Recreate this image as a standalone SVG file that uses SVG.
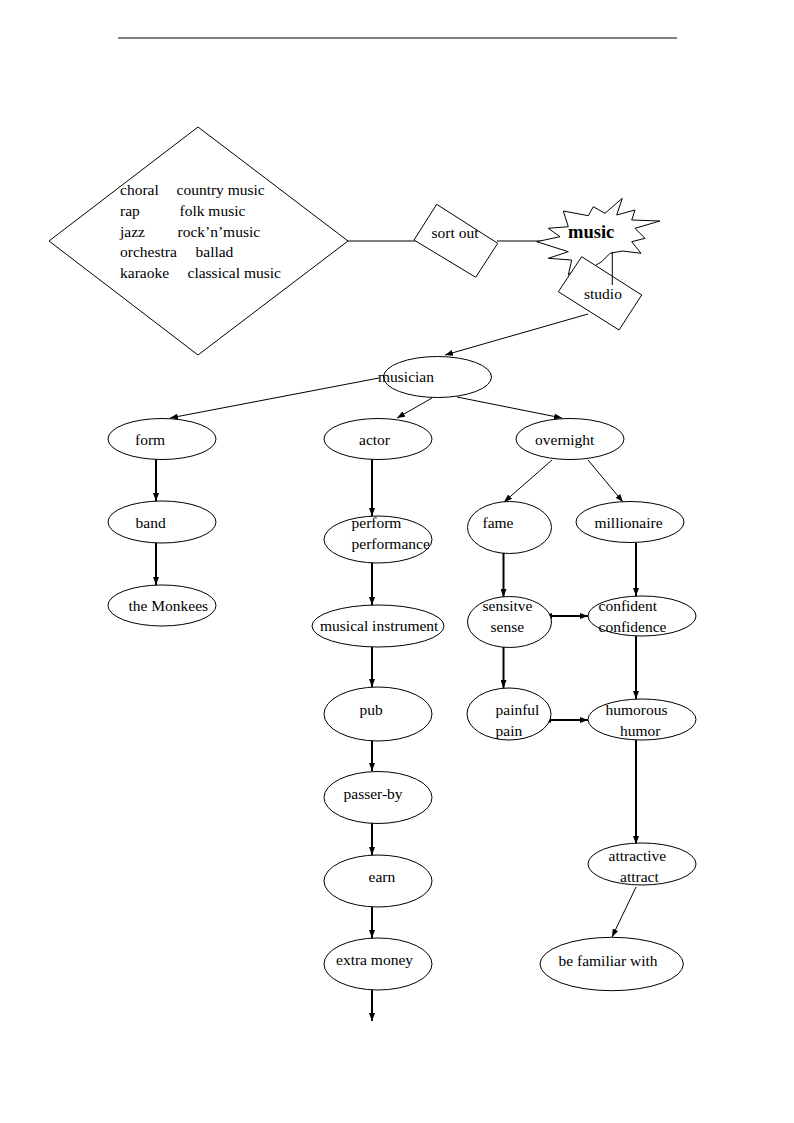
<svg xmlns="http://www.w3.org/2000/svg" width="794" height="1123" viewBox="0 0 794 1123">
<defs>
<marker id="ah" viewBox="0 0 8 6" refX="8" refY="3" markerWidth="8" markerHeight="6" markerUnits="userSpaceOnUse" orient="auto"><path d="M0,0 L8,3 L0,6 z" fill="#000"/></marker>
<marker id="as" viewBox="0 0 8 6" refX="0" refY="3" markerWidth="8" markerHeight="6" markerUnits="userSpaceOnUse" orient="auto-start-reverse"><path d="M0,0 L8,3 L0,6 z" fill="#000"/></marker>
</defs>
<style>
text{font-family:"Liberation Serif","Times New Roman",serif;font-size:15.5px;fill:#000}
.n{fill:#fff;stroke:#000;stroke-width:1}
.t{stroke:#000;stroke-width:1;fill:none}
.k{stroke:#000;stroke-width:2;fill:none}
</style>
<rect width="794" height="1123" fill="#fff"/>
<line x1="118" y1="38" x2="677" y2="38" stroke="#000" stroke-width="1"/>
<g id="connectors">
<line class="t" x1="348" y1="241" x2="415" y2="241"/>
<line class="t" x1="497" y1="241" x2="548" y2="241"/>
<line class="t" x1="588" y1="314" x2="445" y2="355" marker-end="url(#ah)"/>
<line class="t" x1="379" y1="378" x2="170" y2="418" marker-end="url(#ah)"/>
<line class="t" x1="432" y1="398" x2="397" y2="418" marker-end="url(#ah)"/>
<line class="t" x1="457" y1="397" x2="562" y2="418" marker-end="url(#ah)"/>
<line class="t" x1="552" y1="460" x2="504" y2="502" marker-end="url(#ah)"/>
<line class="t" x1="588" y1="460" x2="623" y2="502" marker-end="url(#ah)"/>
<line class="k" x1="156" y1="459" x2="156" y2="501" marker-end="url(#ah)"/>
<line class="k" x1="156" y1="543" x2="156" y2="585" marker-end="url(#ah)"/>
<line class="k" x1="372" y1="459" x2="372" y2="516" marker-end="url(#ah)"/>
<line class="k" x1="372" y1="563" x2="372" y2="605" marker-end="url(#ah)"/>
<line class="k" x1="372" y1="647" x2="372" y2="687" marker-end="url(#ah)"/>
<line class="k" x1="372" y1="741" x2="372" y2="771" marker-end="url(#ah)"/>
<line class="k" x1="372" y1="823" x2="372" y2="855" marker-end="url(#ah)"/>
<line class="k" x1="372" y1="907" x2="372" y2="938" marker-end="url(#ah)"/>
<line class="k" x1="372" y1="990" x2="372" y2="1021" marker-end="url(#ah)"/>
<line class="k" x1="503.5" y1="553" x2="503.5" y2="597" marker-end="url(#ah)"/>
<line class="k" x1="636" y1="543" x2="636" y2="596" marker-end="url(#ah)"/>
<line class="k" x1="552" y1="616" x2="588" y2="616" marker-start="url(#as)" marker-end="url(#ah)"/>
<line class="k" x1="503.5" y1="647" x2="503.5" y2="688" marker-end="url(#ah)"/>
<line class="k" x1="636" y1="636" x2="636" y2="699" marker-end="url(#ah)"/>
<line class="k" x1="551" y1="720" x2="588" y2="720" marker-start="url(#as)" marker-end="url(#ah)"/>
<line class="k" x1="636" y1="740" x2="636" y2="844" marker-end="url(#ah)"/>
<line class="t" x1="636" y1="887" x2="612" y2="937" marker-end="url(#ah)"/>
</g>
<g id="genres">
<polygon class="n" points="198,127 348,241 198,355 49,241"/>
<text x="120" y="195">choral</text><text x="176.5" y="195">country music</text>
<text x="120" y="216">rap</text><text x="179.5" y="216">folk music</text>
<text x="120" y="237">jazz</text><text x="177.5" y="237">rock’n’music</text>
<text x="120" y="257">orchestra</text><text x="195.5" y="257">ballad</text>
<text x="120" y="278">karaoke</text><text x="187.5" y="278">classical music</text>
</g>
<g id="sortout">
<polygon class="n" points="436.7,204.3 497.7,243.3 475.7,277.3 414,240"/>
<text x="431.5" y="238">sort out</text>
</g>
<g id="music">
<polygon class="n" points="563.3,211 588.3,215.7 593.3,206.7 605,213.3 622.3,198.3 616.7,215 635,210 631.7,220 660,221 635,228.3 645,238.3 631.7,241.7 641,253.3 622.3,251 610,253.3 601.7,261.7 588,270 578,266.7 568.3,275 571.7,260 548.3,258.3 568.3,251.7 536.7,241.7 560,236.7 548.3,228.3 568.3,226.7"/>
<text x="568" y="238" style="font-weight:bold;font-size:18.5px">music</text>
</g>
<g id="studio">
<polygon class="n" points="581.7,256.7 641.7,295 619,330 558.3,291.7"/>
<line class="t" x1="612.3" y1="252" x2="612.3" y2="285"/>
<text x="584" y="299">studio</text>
</g>
<g id="musician"><ellipse class="n" cx="437.5" cy="377" rx="54" ry="20.5"/><text x="378" y="382">musician</text></g>
<g id="form"><ellipse class="n" cx="162" cy="439" rx="54" ry="20.5"/><text x="135" y="445">form</text></g>
<g id="actor"><ellipse class="n" cx="378" cy="439" rx="54" ry="20.5"/><text x="359" y="445">actor</text></g>
<g id="overnight"><ellipse class="n" cx="570" cy="439" rx="54" ry="20.5"/><text x="535" y="445">overnight</text></g>
<g id="band"><ellipse class="n" cx="162" cy="522" rx="54" ry="21"/><text x="135.5" y="528">band</text></g>
<g id="monkees"><ellipse class="n" cx="162" cy="605.5" rx="54" ry="20.5"/><text x="128.5" y="611">the Monkees</text></g>
<g id="perform"><ellipse class="n" cx="378" cy="539.5" rx="54" ry="23.5"/><text x="351.5" y="527.5">perform</text><text x="351.5" y="548.5">performance</text></g>
<g id="instrument"><ellipse class="n" cx="378" cy="626" rx="66" ry="21"/><text x="320" y="631">musical instrument</text></g>
<g id="pub"><ellipse class="n" cx="378" cy="714" rx="54" ry="27"/><text x="359.5" y="715">pub</text></g>
<g id="passerby"><ellipse class="n" cx="378" cy="797.5" rx="54" ry="26"/><text x="343.5" y="798.5">passer-by</text></g>
<g id="earn"><ellipse class="n" cx="378" cy="881" rx="54" ry="26"/><text x="368.5" y="882">earn</text></g>
<g id="extramoney"><ellipse class="n" cx="378" cy="964" rx="54" ry="26"/><text x="336" y="965">extra money</text></g>
<g id="fame"><ellipse class="n" cx="509.5" cy="527.5" rx="42" ry="26"/><text x="482.5" y="528">fame</text></g>
<g id="millionaire"><ellipse class="n" cx="630" cy="522" rx="54" ry="20.5"/><text x="594.5" y="528">millionaire</text></g>
<g id="sensitve"><ellipse class="n" cx="509.5" cy="622" rx="42" ry="25.5"/><text x="482.5" y="611">sensitve</text><text x="490.5" y="632">sense</text></g>
<g id="confident"><ellipse class="n" cx="642" cy="616" rx="54" ry="20"/><text x="598.5" y="611">confident</text><text x="598.5" y="632">confidence</text></g>
<g id="painful"><ellipse class="n" cx="509" cy="714" rx="42" ry="26"/><text x="495.5" y="715">painful</text><text x="495.5" y="736">pain</text></g>
<g id="humorous"><ellipse class="n" cx="642" cy="719.5" rx="54" ry="20.5"/><text x="605.5" y="715">humorous</text><text x="620" y="736">humor</text></g>
<g id="attractive"><ellipse class="n" cx="642" cy="864" rx="54" ry="21"/><text x="608.5" y="861">attractive</text><text x="620" y="882">attract</text></g>
<g id="familiar"><ellipse class="n" cx="611.7" cy="964" rx="71.7" ry="26.7"/><text x="558.5" y="965.5">be familiar with</text></g>
</svg>
